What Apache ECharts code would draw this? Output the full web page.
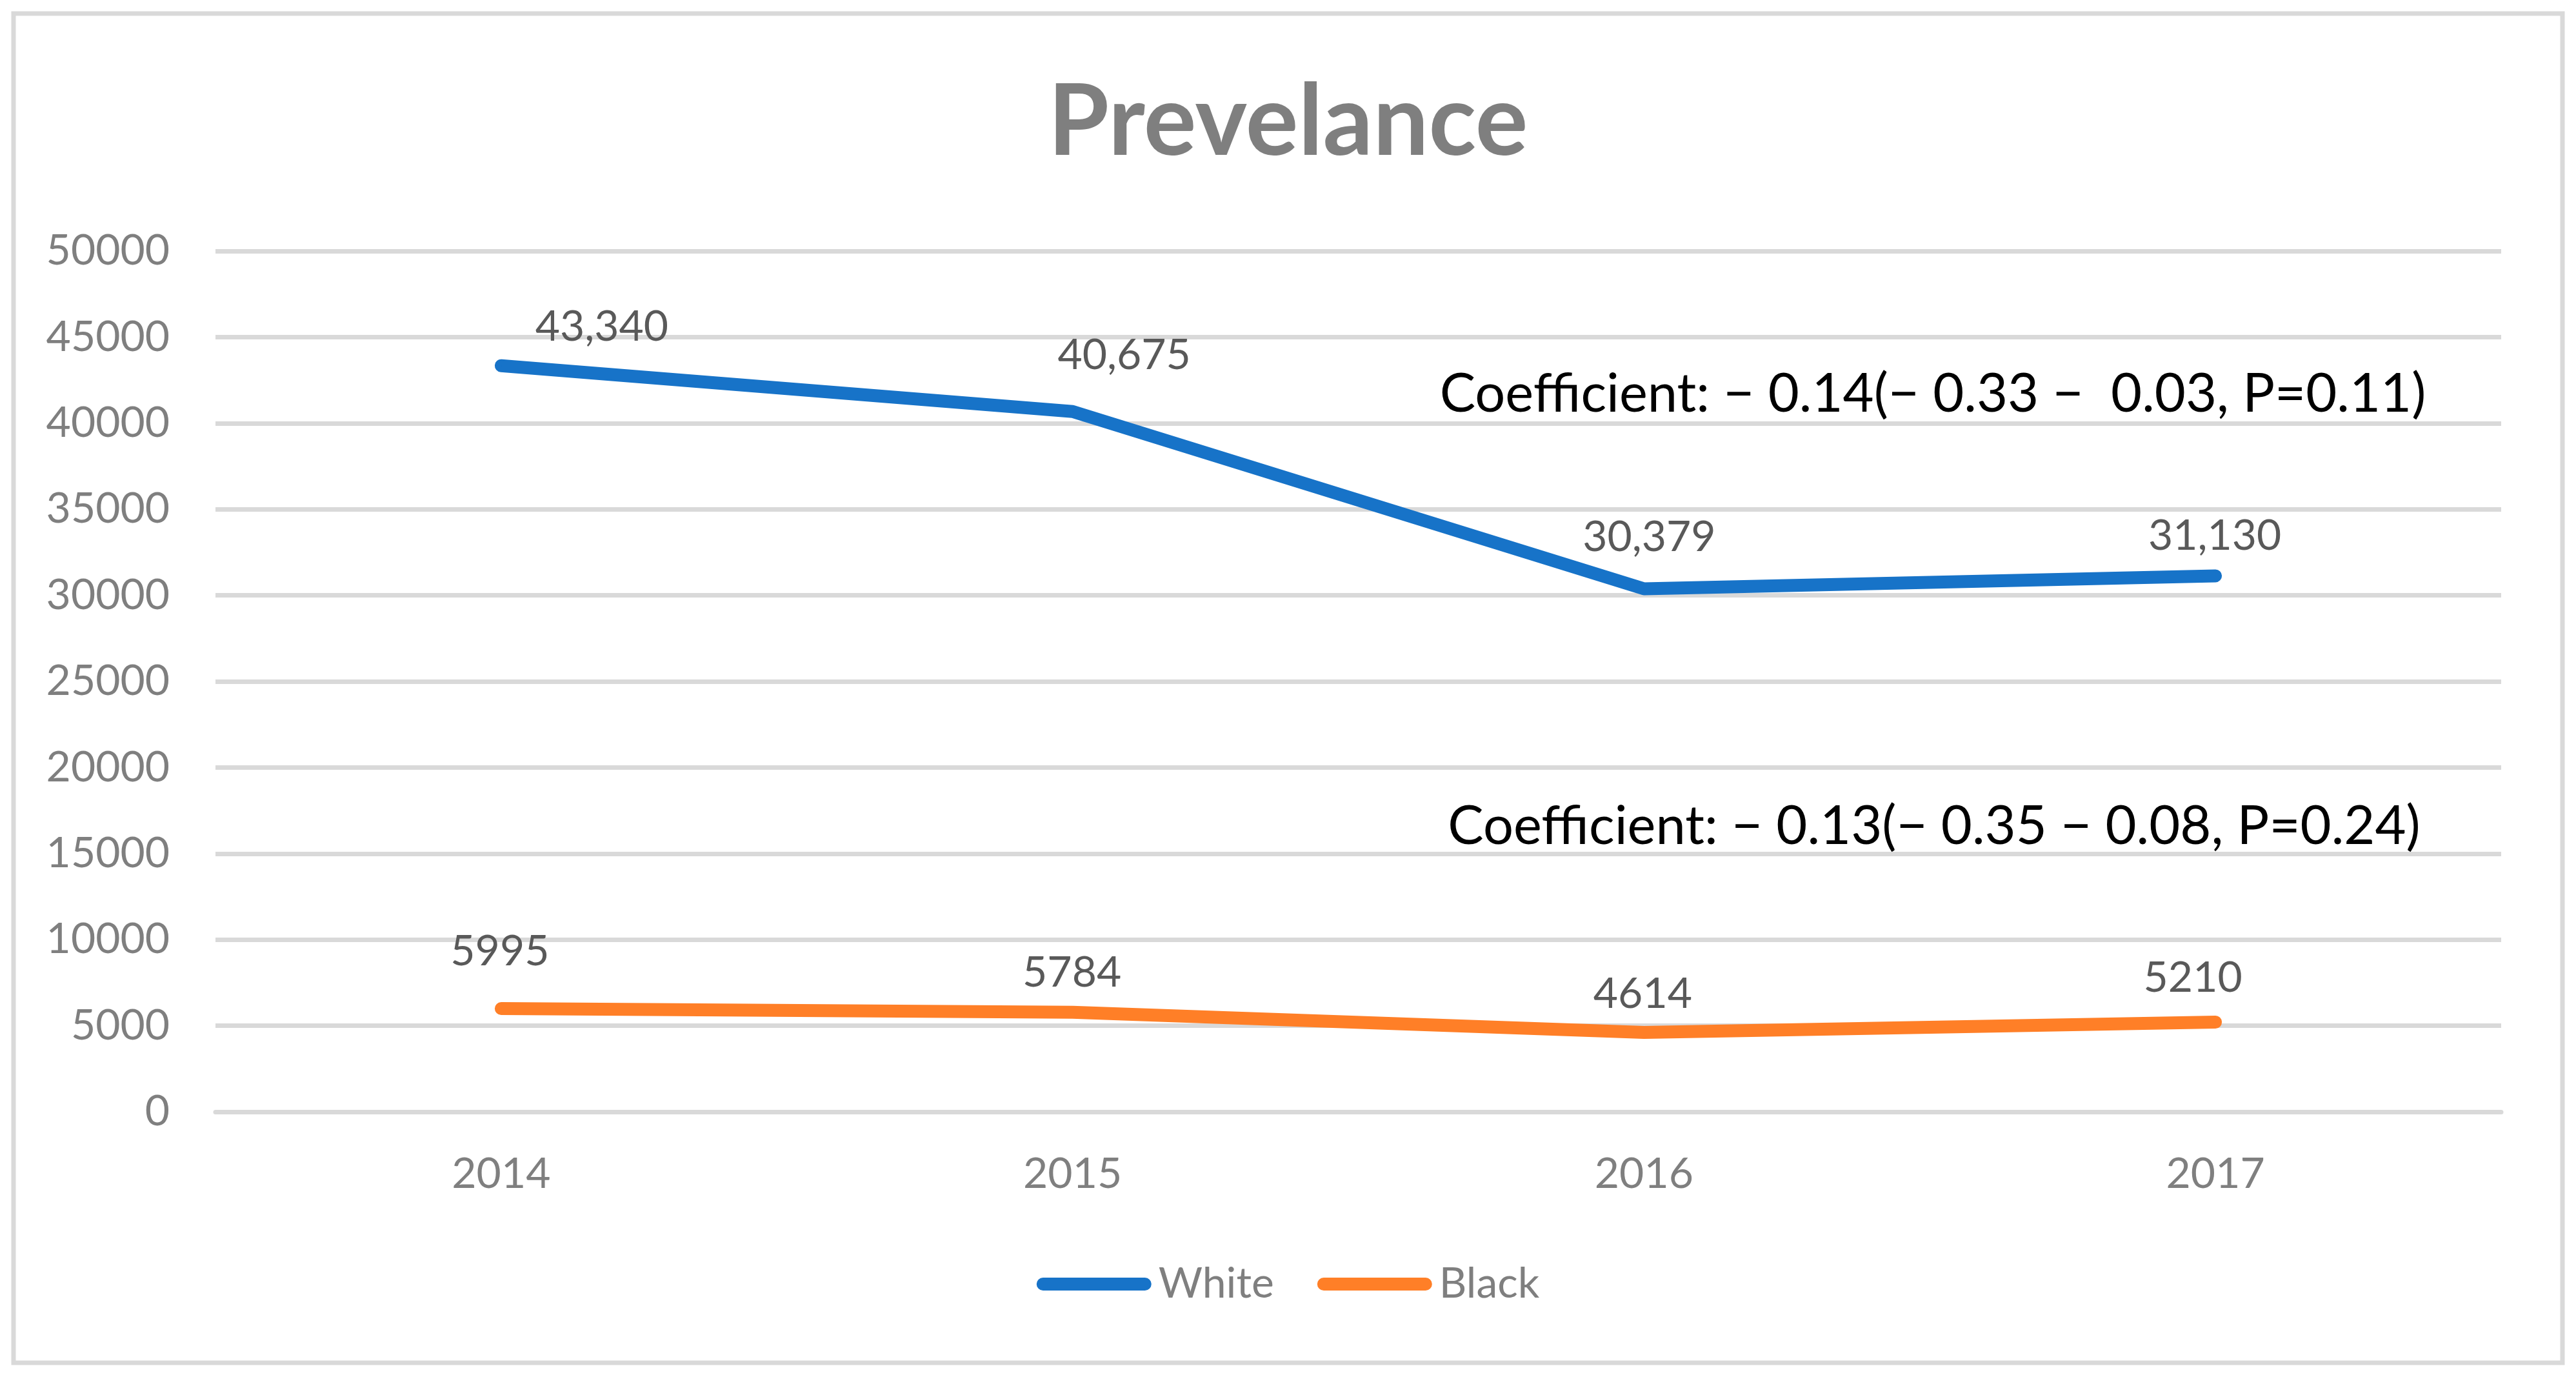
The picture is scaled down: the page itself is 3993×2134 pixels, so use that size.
<!DOCTYPE html>
<html>
<head>
<meta charset="utf-8">
<script src="https://cdn.jsdelivr.net/npm/echarts@6/dist/echarts.min.js"></script>
<style>
html,body{margin:0;padding:0;background:#fff;}
#chart{width:3993px;height:2134px;}
</style>
</head>
<body>
<div id="chart"></div>
<script>
// ---- data ----
const categories = ['2014', '2015', '2016', '2017'];
const whiteValues = [43340, 40675, 30379, 31130];
const blackValues = [5995, 5784, 4614, 5210];
const yTicks = { min: 0, max: 50000, interval: 5000 };
const chartTitle = 'Prevelance';
const whiteNote = 'Coefficient: \u2212 0.14(\u2212 0.33 \u2212  0.03, P=0.11)';
const blackNote = 'Coefficient: \u2212 0.13(\u2212 0.35 \u2212 0.08, P=0.24)';

// ---- styling (label nudges, not data) ----
const whiteLabelOffsets = [[156, -26], [80, -54], [8, -46], [-1, -28]];
const blackLabelOffsets = [[-2, -55], [-1, -27], [-2, -26], [-35, -35]];

const FONT = 'Lato';
const chart = echarts.init(document.getElementById('chart'));

function items(values, offsets) {
  return values.map((v, i) => ({ value: v, label: { offset: offsets[i] } }));
}

const option = {
  backgroundColor: '#ffffff',
  animation: false,
  title: {
    text: chartTitle,
    left: 'center',
    top: 114,
    padding: 0,
    textStyle: { fontFamily: FONT, fontWeight: 'bold', fontSize: 153, color: '#7f7f7f' }
  },
  grid: { left: 334, right: 116, top: 389, bottom: 411 },
  legend: {
    data: ['White', 'Black'],
    left: 'center',
    top: 1952,
    itemWidth: 178,
    itemHeight: 20,
    itemGap: 67,
    icon: 'path://M10,0 L168,0 A10,10 0 0 1 168,20 L10,20 A10,10 0 0 1 10,0 Z',
    textStyle: { fontFamily: FONT, fontSize: 66, color: '#7f7f7f', padding: [0, 0, 0, 6] }
  },
  xAxis: {
    type: 'category',
    data: categories,
    boundaryGap: true,
    axisLine: { show: true, lineStyle: { color: '#d9d9d9', width: 7 } },
    axisTick: { show: false },
    axisLabel: { fontFamily: FONT, fontSize: 66, color: '#7f7f7f', margin: 64 },
    splitLine: { show: false }
  },
  yAxis: {
    type: 'value',
    min: yTicks.min,
    max: yTicks.max,
    interval: yTicks.interval,
    axisLine: { show: false },
    axisTick: { show: false },
    axisLabel: { fontFamily: FONT, fontSize: 66, color: '#7f7f7f', margin: 71, formatter: v => String(v) },
    splitLine: { show: true, lineStyle: { color: '#d9d9d9', width: 7 } }
  },
  series: [
    {
      name: 'White',
      type: 'line',
      data: items(whiteValues, whiteLabelOffsets),
      color: '#1773c8',
      symbol: 'circle',
      symbolSize: 1,
      lineStyle: { width: 20, color: '#1773c8', cap: 'round', join: 'round' },
      label: {
        show: true, position: 'top', distance: 0,
        fontFamily: FONT, fontSize: 66, color: '#595959',
        formatter: p => p.value.toLocaleString('en-US')
      }
    },
    {
      name: 'Black',
      type: 'line',
      data: items(blackValues, blackLabelOffsets),
      color: '#ff7f27',
      symbol: 'circle',
      symbolSize: 1,
      lineStyle: { width: 20, color: '#ff7f27', cap: 'round', join: 'round' },
      label: {
        show: true, position: 'top', distance: 0,
        fontFamily: FONT, fontSize: 66, color: '#595959',
        formatter: p => String(p.value)
      }
    }
  ],
  graphic: [
    {
      type: 'rect', silent: true, z: -1,
      shape: { x: 21, y: 21, width: 3951, height: 2091 },
      style: { fill: 'none', stroke: '#d9d9d9', lineWidth: 7 }
    },
    {
      type: 'text', x: 2996, y: 611,
      style: { text: whiteNote, fontFamily: FONT, fontSize: 83, fill: '#000000', align: 'center', verticalAlign: 'middle' }
    },
    {
      type: 'text', x: 2998, y: 1281,
      style: { text: blackNote, fontFamily: FONT, fontSize: 83, fill: '#000000', align: 'center', verticalAlign: 'middle' }
    }
  ]
};
chart.setOption(option);
</script>
</body>
</html>
